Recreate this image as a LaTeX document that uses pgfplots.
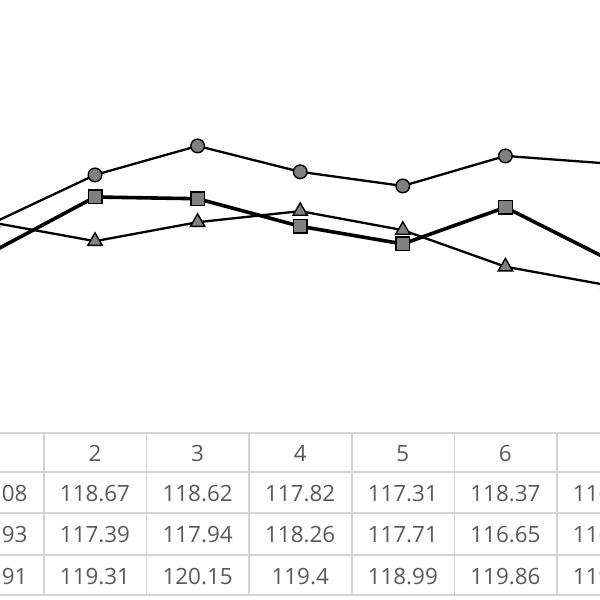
\documentclass[border=0pt]{standalone}
\usepackage{pgfplots}
\pgfplotsset{compat=1.18}
\usepackage{fontspec}
\setmainfont{Open Sans}
\definecolor{txt}{HTML}{595959}
\definecolor{gridc}{HTML}{D4D4D4}
\definecolor{mk}{HTML}{808080}
\begin{document}
\begin{tikzpicture}
\useasboundingbox (0bp,0bp) rectangle (600bp,600bp);
\clip (0bp,0bp) rectangle (600bp,600bp);
\begin{axis}[at={(0bp,600bp)}, anchor=north west, scale only axis,
  width=600bp, height=433bp,
  xmin=1.074, xmax=6.922, ymin=111.83, ymax=124.38,
  hide axis, clip=false]
% circles
\addplot[black, line width=2.3bp, mark=*, mark size=6.8bp,
  mark options={fill=mk, line width=1.4bp}]
  coordinates {(1,117.91) (2,119.31) (3,120.15) (4,119.4) (5,118.99) (6,119.86) (7,119.64)};
% triangles
\addplot[black, line width=2.3bp, mark=triangle*, mark size=8.3bp,
  mark options={fill=mk, line width=1.4bp}]
  coordinates {(1,117.93) (2,117.39) (3,117.94) (4,118.26) (5,117.71) (6,116.65) (7,116.11)};
% squares
\addplot[black, line width=3.6bp, mark=square*, mark size=6.8bp,
  mark options={fill=mk, line width=1.4bp}]
  coordinates {(1,117.08) (2,118.67) (3,118.62) (4,117.82) (5,117.31) (6,118.37) (7,116.87)};
\end{axis}
% data table
\begin{scope}[gridc, line width=1.6bp]
\foreach \yy in {167,128,87,45,5} \draw (0bp,\yy bp) -- (600bp,\yy bp);
\foreach \xx in {44,146.6,249.2,351.8,454.4,557} \draw (\xx bp,167bp) -- (\xx bp,5bp);
\end{scope}
\begin{scope}[every node/.style={text=txt, font=\fontsize{22.5}{27}\selectfont, anchor=base, inner sep=0pt}]
\node at (-7.6bp,138bp) {1};
\node at (95bp,138bp) {2};
\node at (197.6bp,138bp) {3};
\node at (300.2bp,138bp) {4};
\node at (402.8bp,138bp) {5};
\node at (505.4bp,138bp) {6};
\node at (608bp,138bp) {7};
% row squares
\node at (-7.6bp,98bp) {117.08};
\node at (95bp,98bp) {118.67};
\node at (197.6bp,98bp) {118.62};
\node at (300.2bp,98bp) {117.82};
\node at (402.8bp,98bp) {117.31};
\node at (505.4bp,98bp) {118.37};
\node at (608bp,98bp) {116.87};
% row triangles
\node at (-7.6bp,57bp) {117.93};
\node at (95bp,57bp) {117.39};
\node at (197.6bp,57bp) {117.94};
\node at (300.2bp,57bp) {118.26};
\node at (402.8bp,57bp) {117.71};
\node at (505.4bp,57bp) {116.65};
\node at (608bp,57bp) {116.11};
% row circles
\node at (-7.6bp,16bp) {117.91};
\node at (95bp,16bp) {119.31};
\node at (197.6bp,16bp) {120.15};
\node at (300.2bp,16bp) {119.4};
\node at (402.8bp,16bp) {118.99};
\node at (505.4bp,16bp) {119.86};
\node at (608bp,16bp) {119.64};
\end{scope}
\end{tikzpicture}
\end{document}
